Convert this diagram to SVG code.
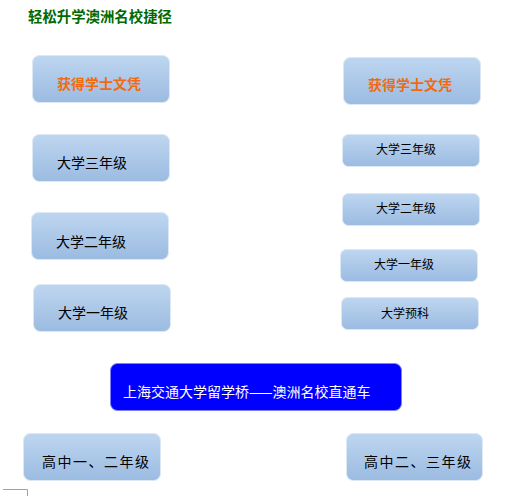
<svg xmlns="http://www.w3.org/2000/svg" width="514" height="496" viewBox="0 0 514 496">
<defs>
<linearGradient id="g" x1="0" y1="0" x2="0" y2="1">
<stop offset="0" stop-color="#BED6F0"/>
<stop offset="1" stop-color="#9BBBE1"/>
</linearGradient>
<style>
.box{fill:url(#g);stroke:#DDE8F5;stroke-width:1}
.t{font-family:"Noto Sans CJK SC","Noto Sans",sans-serif;fill:#000}
.l{font-size:14px}
.s{font-size:12px}
.o{font-size:14px;font-weight:bold;fill:#F26A10}
</style>
</defs>
<rect width="514" height="496" fill="#fff"/>
<text x="28" y="22" class="t" style="font-size:14.4px;font-weight:bold;fill:#006A00">轻松升学澳洲名校捷径</text>
<g id="connectors"></g>
<g id="l-degree"><rect class="box" x="32.5" y="55.5" width="137" height="47" rx="7"/><text class="t o" x="57" y="89">获得学士文凭</text></g>
<g id="l-y3"><rect class="box" x="32.5" y="134.5" width="137" height="47" rx="7"/><text class="t l" x="57" y="168">大学三年级</text></g>
<g id="l-y2"><rect class="box" x="31.5" y="212.5" width="137" height="47" rx="7"/><text class="t l" x="56" y="247">大学二年级</text></g>
<g id="l-y1"><rect class="box" x="33.5" y="284.5" width="137" height="47" rx="7"/><text class="t l" x="58" y="318">大学一年级</text></g>
<g id="r-degree"><rect class="box" x="343.5" y="57.5" width="137" height="47" rx="7"/><text class="t o" x="368" y="90">获得学士文凭</text></g>
<g id="r-y3"><rect class="box" x="342.5" y="134.5" width="137" height="32" rx="6"/><text class="t s" x="376" y="154">大学三年级</text></g>
<g id="r-y2"><rect class="box" x="342.5" y="193.5" width="137" height="32" rx="6"/><text class="t s" x="376" y="213">大学二年级</text></g>
<g id="r-y1"><rect class="box" x="340.5" y="249.5" width="137" height="32" rx="6"/><text class="t s" x="374" y="269">大学一年级</text></g>
<g id="r-prep"><rect class="box" x="341.5" y="297.5" width="137" height="32" rx="6"/><text class="t s" x="381" y="318">大学预科</text></g>
<g id="bridge"><rect x="110.5" y="363.5" width="291" height="47" rx="7" fill="#0000FF" stroke="#7F7FFF" stroke-width="1"/><text class="t l" x="123" y="397" style="fill:#fff">上海交通大学留学桥——澳洲名校直通车</text></g>
<g id="hs12"><rect class="box" x="23.5" y="433.5" width="137" height="47" rx="7"/><text class="t l" x="42" y="467" style="letter-spacing:1.5px">高中一、二年级</text></g>
<g id="hs23"><rect class="box" x="346.5" y="433.5" width="136" height="47" rx="7"/><text class="t l" x="364" y="467" style="letter-spacing:1.5px">高中二、三年级</text></g>
<path d="M3 489.5H27.5V496" fill="none" stroke="#A0A0A0" stroke-width="1"/>
</svg>
